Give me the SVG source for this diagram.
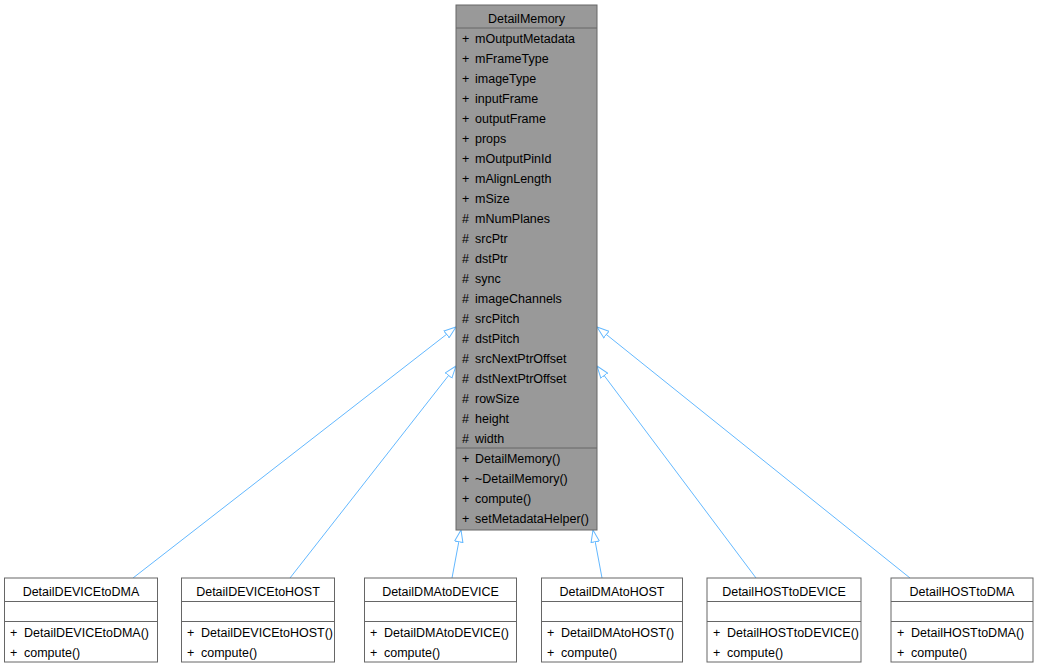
<svg xmlns="http://www.w3.org/2000/svg" width="1037" height="669" viewBox="0 0 1037 669">
<style>
text{font-family:"Liberation Sans",Arial,sans-serif;font-size:12.5px;fill:#000}
.t{text-anchor:middle}
.box{stroke:#666666;stroke-width:1}
.main{fill:#999999}
.sub{fill:#ffffff}
.sep{stroke:#666666;stroke-width:1}
.edge{fill:none;stroke:#63b8ff;stroke-width:1;marker-end:url(#tri)}
</style>
<defs>
<marker id="tri" viewBox="0 0 13 10" refX="12.5" refY="5" markerWidth="13" markerHeight="10" markerUnits="userSpaceOnUse" orient="auto">
<path d="M0.5,0.8 L12.5,5 L0.5,9.2 Z" fill="#ffffff" stroke="#63b8ff" stroke-width="1"/>
</marker>
</defs>
<rect width="1037" height="669" fill="#ffffff"/>
<g id="connectors">
<path class="edge" d="M133,578 L456,327"/>
<path class="edge" d="M290,578 L456,366"/>
<path class="edge" d="M452,578 L461,530"/>
<path class="edge" d="M602,578 L593,530"/>
<path class="edge" d="M756,578 L597,366"/>
<path class="edge" d="M910,578 L597,327"/>
</g>
<g id="DetailMemory">
<rect class="box main" x="456" y="5" width="141" height="525"/>
<line class="sep" x1="456" y1="28" x2="597" y2="28"/>
<line class="sep" x1="456" y1="448" x2="597" y2="448"/>
<text class="t" x="526.5" y="23">DetailMemory</text>
<text x="462" y="43">+</text><text x="475" y="43">mOutputMetadata</text>
<text x="462" y="63">+</text><text x="475" y="63">mFrameType</text>
<text x="462" y="83">+</text><text x="475" y="83">imageType</text>
<text x="462" y="103">+</text><text x="475" y="103">inputFrame</text>
<text x="462" y="123">+</text><text x="475" y="123">outputFrame</text>
<text x="462" y="143">+</text><text x="475" y="143">props</text>
<text x="462" y="163">+</text><text x="475" y="163">mOutputPinId</text>
<text x="462" y="183">+</text><text x="475" y="183">mAlignLength</text>
<text x="462" y="203">+</text><text x="475" y="203">mSize</text>
<text x="462" y="223">#</text><text x="475" y="223">mNumPlanes</text>
<text x="462" y="243">#</text><text x="475" y="243">srcPtr</text>
<text x="462" y="263">#</text><text x="475" y="263">dstPtr</text>
<text x="462" y="283">#</text><text x="475" y="283">sync</text>
<text x="462" y="303">#</text><text x="475" y="303">imageChannels</text>
<text x="462" y="323">#</text><text x="475" y="323">srcPitch</text>
<text x="462" y="343">#</text><text x="475" y="343">dstPitch</text>
<text x="462" y="363">#</text><text x="475" y="363">srcNextPtrOffset</text>
<text x="462" y="383">#</text><text x="475" y="383">dstNextPtrOffset</text>
<text x="462" y="403">#</text><text x="475" y="403">rowSize</text>
<text x="462" y="423">#</text><text x="475" y="423">height</text>
<text x="462" y="443">#</text><text x="475" y="443">width</text>
<text x="462" y="463">+</text><text x="475" y="463">DetailMemory()</text>
<text x="462" y="483">+</text><text x="475" y="483">~DetailMemory()</text>
<text x="462" y="503">+</text><text x="475" y="503">compute()</text>
<text x="462" y="523">+</text><text x="475" y="523">setMetadataHelper()</text>
</g>
<g id="DetailDEVICEtoDMA">
<rect class="box sub" x="4.5" y="578" width="153" height="84"/>
<line class="sep" x1="4.5" y1="601.5" x2="157.5" y2="601.5"/>
<line class="sep" x1="4.5" y1="621.5" x2="157.5" y2="621.5"/>
<text class="t" x="81" y="596">DetailDEVICEtoDMA</text>
<text x="10" y="637">+</text><text x="24" y="637">DetailDEVICEtoDMA()</text>
<text x="10" y="657">+</text><text x="24" y="657">compute()</text>
</g>
<g id="DetailDEVICEtoHOST">
<rect class="box sub" x="181.5" y="578" width="153" height="84"/>
<line class="sep" x1="181.5" y1="601.5" x2="334.5" y2="601.5"/>
<line class="sep" x1="181.5" y1="621.5" x2="334.5" y2="621.5"/>
<text class="t" x="258" y="596">DetailDEVICEtoHOST</text>
<text x="187" y="637">+</text><text x="201" y="637">DetailDEVICEtoHOST()</text>
<text x="187" y="657">+</text><text x="201" y="657">compute()</text>
</g>
<g id="DetailDMAtoDEVICE">
<rect class="box sub" x="364.5" y="578" width="152" height="84"/>
<line class="sep" x1="364.5" y1="601.5" x2="516.5" y2="601.5"/>
<line class="sep" x1="364.5" y1="621.5" x2="516.5" y2="621.5"/>
<text class="t" x="440.5" y="596">DetailDMAtoDEVICE</text>
<text x="370" y="637">+</text><text x="384" y="637">DetailDMAtoDEVICE()</text>
<text x="370" y="657">+</text><text x="384" y="657">compute()</text>
</g>
<g id="DetailDMAtoHOST">
<rect class="box sub" x="541.5" y="578" width="141" height="84"/>
<line class="sep" x1="541.5" y1="601.5" x2="682.5" y2="601.5"/>
<line class="sep" x1="541.5" y1="621.5" x2="682.5" y2="621.5"/>
<text class="t" x="612" y="596">DetailDMAtoHOST</text>
<text x="547" y="637">+</text><text x="561" y="637">DetailDMAtoHOST()</text>
<text x="547" y="657">+</text><text x="561" y="657">compute()</text>
</g>
<g id="DetailHOSTtoDEVICE">
<rect class="box sub" x="707" y="578" width="154" height="84"/>
<line class="sep" x1="707" y1="601.5" x2="861" y2="601.5"/>
<line class="sep" x1="707" y1="621.5" x2="861" y2="621.5"/>
<text class="t" x="784" y="596">DetailHOSTtoDEVICE</text>
<text x="713" y="637">+</text><text x="727" y="637">DetailHOSTtoDEVICE()</text>
<text x="713" y="657">+</text><text x="727" y="657">compute()</text>
</g>
<g id="DetailHOSTtoDMA">
<rect class="box sub" x="891" y="578" width="142" height="84"/>
<line class="sep" x1="891" y1="601.5" x2="1033" y2="601.5"/>
<line class="sep" x1="891" y1="621.5" x2="1033" y2="621.5"/>
<text class="t" x="962" y="596">DetailHOSTtoDMA</text>
<text x="897" y="637">+</text><text x="911" y="637">DetailHOSTtoDMA()</text>
<text x="897" y="657">+</text><text x="911" y="657">compute()</text>
</g>
</svg>
